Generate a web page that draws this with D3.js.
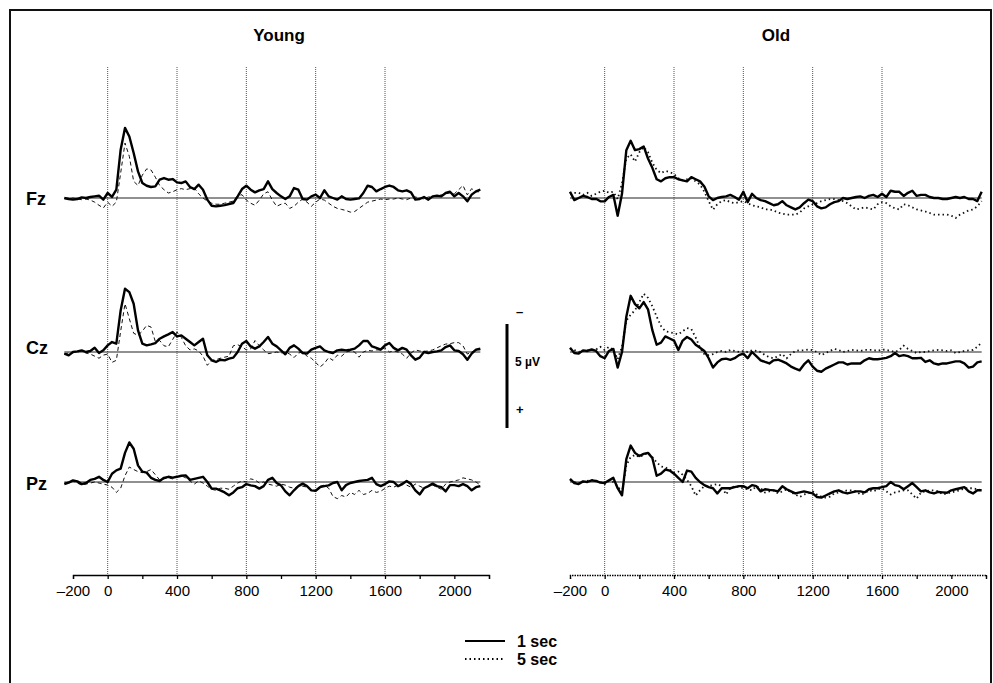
<!DOCTYPE html>
<html>
<head>
<meta charset="utf-8">
<script src="https://cdn.jsdelivr.net/npm/d3@7"></script>
<style>
  body { margin: 0; background: #fff; }
  svg text { font-family: Arial, "Liberation Sans", sans-serif; fill: #000; }
</style>
</head>
<body>
<div id="chart"></div>
<script>
// ERP waveforms, amplitude in microvolts (negative plotted up), sampled every 25 ms
const groups = ["Young", "Old"];
const channels = ["Fz", "Cz", "Pz"];
const conditions = ["1 sec", "5 sec"];
const tickValues = [-200, 0, 400, 800, 1200, 1600, 2000];
const gridValues = [0, 400, 800, 1200, 1600];
const step = 25;
const youngStart = -250;
const oldStart = -200;

// Young, 1 sec (solid)
const youngFz1 = [0, 0.05, 0.08, 0.05, -0.03, 0, -0.05, -0.08, -0.11, 0.08, -0.24, -0.05, -0.4, -2.32, -3.37, -2.96, -2.16, -1.28, -0.72, -0.59,
  -0.53, -0.56, -0.88, -0.96, -0.88, -0.91, -0.75, -0.72, -0.8, -0.53, -0.43, -0.64, -0.4, 0.08, 0.37, 0.4, 0.37, 0.34, 0.29, 0.24,
  -0.08, -0.43, -0.59, -0.4, -0.27, -0.37, -0.43, -0.8, -0.43, -0.24, -0.08, 0.05, -0.08, -0.48, -0.4, 0.05, 0.08, -0.08, -0.16, 0,
  -0.37, -0.08, 0, 0.08, -0.08, 0.05, 0.08, 0.05, 0.02, -0.24, -0.59, -0.53, -0.32, -0.43, -0.53, -0.6, -0.53, -0.37, -0.32, -0.37,
  -0.27, 0.08, 0.05, -0.05, 0.08, -0.08, -0.11, -0.08, -0.24, -0.3, -0.08, -0.24, -0.08, 0.16, -0.16, -0.32, -0.4];
const youngCz1 = [0.08, 0.16, 0, -0.03, -0.08, 0, -0.05, -0.2, 0.05, -0.08, -0.32, -0.48, -0.4, -2.0, -3.04, -2.88, -2.32, -1.04, -0.4, -0.32,
  -0.37, -0.43, -0.64, -0.75, -0.85, -0.96, -0.75, -0.8, -0.64, -0.48, -0.32, -0.48, -0.64, 0.16, 0.4, 0.48, 0.37, 0.4, 0.32, 0.27,
  0, -0.4, -0.53, -0.27, -0.16, -0.27, -0.48, -0.72, -0.4, -0.27, -0.08, 0.11, -0.2, -0.32, -0.16, 0.05, 0.08, -0.11, -0.2, -0.27,
  -0.08, 0, 0.05, -0.08, -0.11, -0.08, -0.11, -0.16, -0.32, -0.53, -0.53, -0.27, -0.2, -0.11, -0.32, -0.43, -0.2, -0.08, -0.2, -0.11,
  0.16, 0.37, 0.27, 0, 0.05, 0, -0.03, -0.08, -0.24, -0.32, -0.08, -0.05, 0.11, 0.37, 0.08, -0.11, -0.16];
const youngPz1 = [0.1, 0.03, -0.08, -0.03, 0.1, 0.05, -0.1, -0.15, -0.25, -0.1, 0, -0.4, -0.56, -0.64, -1.4, -1.9, -1.6, -0.8, -0.5, -0.45,
  -0.2, -0.1, -0.05, -0.2, -0.25, -0.21, -0.25, -0.3, -0.32, -0.1, -0.15, -0.2, -0.25, 0, 0.32, 0.32, 0.4, 0.5, 0.64, 0.5,
  0.3, 0.25, 0.1, 0.16, 0.2, 0.32, 0.2, -0.1, -0.2, 0.05, 0.16, 0.45, 0.64, 0.4, 0.2, 0.08, 0.2, 0.4, 0.42, 0.25,
  0.2, 0.16, 0.05, 0, 0.4, 0.15, 0.05, 0, -0.05, -0.08, -0.1, -0.2, 0.1, 0.2, 0.1, -0.03, 0, 0.2, 0.1, -0.05,
  0.1, 0.4, 0.6, 0.3, 0.2, 0.08, 0.2, 0.25, 0.45, 0.15, 0.15, 0.2, 0.1, 0.2, 0.4, 0.25, 0.2];

// Young, 5 sec (dashed)
const youngFz5 = [0.03, 0.05, 0, 0.05, 0.08, 0.05, 0.1, 0.2, 0.35, 0.48, 0.2, 0.4, 0.2, -1.2, -2.64, -2.0, -0.8, -0.6, -1.1, -1.4,
  -1.35, -1.0, -0.6, -0.4, -0.24, -0.3, -0.4, -0.45, -0.4, -0.45, -0.48, -0.2, 0, 0.15, 0.25, 0.3, 0.3, 0.25, 0.2, 0.15,
  -0.1, -0.16, 0.1, 0.25, 0.35, 0.1, -0.2, -0.3, 0.1, 0.4, 0.3, 0.25, 0.5, 0.4, 0.2, 0.05, 0.2, 0.4, 0.2, 0.05,
  0.1, 0.25, 0.4, 0.5, 0.55, 0.6, 0.68, 0.65, 0.5, 0.35, 0.2, 0.15, 0.1, 0.05, 0.08, 0.05, 0.05, 0, 0.05, 0.08,
  0, -0.05, 0, 0.05, -0.05, -0.05, -0.1, -0.15, -0.2, -0.25, -0.2, -0.4, -0.6, -0.15, -0.45, -0.3, -0.3];
const youngCz5 = [0.08, 0.05, 0.03, 0, -0.05, 0.05, 0.1, 0.2, 0.3, 0.15, 0.1, 0.5, 0.4, -1.0, -2.32, -1.6, -0.9, -0.8, -1.0, -1.28,
  -1.2, -0.5, -0.55, -0.3, -0.25, -0.6, -0.96, -0.7, -0.3, -0.1, -0.15, -0.05, 0.2, 0.64, 0.4, 0.37, 0.3, 0.25, 0.2, -0.3,
  -0.35, -0.25, -0.1, -0.15, -0.55, -0.3, -0.1, 0.08, 0.05, 0, 0.05, 0, 0.1, 0.27, 0.05, 0, 0.2, 0.3, 0.5, 0.72,
  0.55, 0.27, 0.4, 0.15, 0.2, 0, -0.05, 0, 0.25, 0, -0.08, -0.05, -0.1, -0.1, -0.2, 0, -0.05, 0, 0.1, 0.3,
  0.05, -0.1, -0.05, -0.03, -0.05, -0.1, -0.2, -0.3, -0.38, -0.4, -0.45, -0.45, -0.3, 0.1, 0, -0.1, -0.1];
const youngPz5 = [0.05, 0, -0.05, 0.05, 0.15, 0.1, 0.05, 0, 0.05, 0.1, 0.15, 0.25, 0.5, 0.3, -0.3, -0.72, -0.6, -0.5, -0.45, -0.5,
  -0.6, -0.35, -0.1, -0.15, -0.2, -0.15, -0.25, -0.3, -0.2, -0.05, 0.1, -0.05, 0.05, 0.2, 0.35, 0.4, 0.3, 0.3, 0.35, 0.2,
  0.05, -0.05, 0, -0.15, -0.1, 0.05, 0, 0.1, 0.15, 0.2, 0.1, 0.15, 0.25, 0.3, 0.2, 0.2, 0.25, 0.4, 0.4, 0.2,
  0.15, 0.3, 0.7, 0.8, 0.65, 0.72, 0.5, 0.6, 0.4, 0.6, 0.55, 0.4, 0.5, 0.45, 0.3, 0.2, 0.25, 0.15, 0.05, 0.15,
  0.25, 0.1, 0.2, 0.3, 0.2, 0.15, 0.25, 0.35, 0.1, 0, -0.05, -0.1, -0.2, -0.15, -0.1, 0, 0.15];

// Old, 1 sec (solid)
const oldFz1 = [-0.3, 0.1, 0, -0.1, -0.05, 0.05, 0.04, 0.16, 0.16, -0.05, -0.15, 0.85, -0.2, -2.3, -2.75, -2.3, -2.35, -2.48, -1.9, -1.45,
  -0.9, -0.8, -0.95, -1.0, -1.0, -0.9, -0.85, -0.8, -1.0, -0.9, -0.8, -0.55, -0.08, 0.1, 0, -0.05, -0.08, -0.15, -0.05, 0.08,
  -0.3, 0.2, -0.2, 0, 0.1, 0.15, 0.25, 0.35, 0.3, 0.15, 0.35, 0.45, 0.55, 0.45, 0.25, 0.08, 0.15, 0.4, 0.5, 0.45,
  0.3, 0.2, 0.15, 0, 0.05, 0, -0.05, -0.08, 0, -0.1, -0.15, -0.05, -0.2, -0.05, -0.35, -0.3, -0.3, -0.1, -0.25, -0.35,
  -0.1, -0.15, -0.15, -0.05, 0, 0, 0.05, 0.05, 0, -0.05, 0, -0.05, 0.05, 0.05, 0.15, -0.3];
const oldCz1 = [-0.2, 0.05, 0.08, -0.08, -0.05, -0.12, -0.05, 0.2, 0.3, -0.05, -0.15, 0.75, 0, -1.7, -2.7, -2.3, -2.1, -2.4, -2.05, -1.05,
  -0.35, -0.45, -0.75, -0.65, -0.55, -0.1, -0.55, -0.72, -0.6, -0.35, -0.2, -0.05, 0.3, 0.75, 0.5, 0.35, 0.32, 0.38, 0.3, 0.15,
  0.08, 0.3, 0, 0.2, 0.4, 0.48, 0.55, 0.4, 0.37, 0.45, 0.55, 0.7, 0.8, 0.88, 0.6, 0.4, 0.7, 0.9, 0.95, 0.8,
  0.7, 0.6, 0.5, 0.5, 0.6, 0.55, 0.55, 0.55, 0.4, 0.3, 0.35, 0.35, 0.32, 0.28, 0.2, 0.05, 0.2, 0.15, 0.2, 0.3,
  0.3, 0.28, 0.48, 0.4, 0.55, 0.6, 0.55, 0.55, 0.5, 0.45, 0.45, 0.55, 0.75, 0.7, 0.5, 0.45];
const oldPz1 = [-0.15, 0.05, 0.1, -0.03, 0, -0.08, -0.05, 0.03, 0.05, -0.08, -0.2, 0.3, 0.64, -1.1, -1.75, -1.4, -1.25, -1.35, -1.4, -1.15,
  -0.3, -0.4, -0.6, -0.55, -0.4, -0.2, 0, -0.55, -0.5, -0.2, 0, 0.15, 0.25, 0.3, 0.55, 0.3, 0.3, 0.3, 0.25, 0.2,
  0.2, 0.3, 0.15, 0.2, 0.45, 0.35, 0.38, 0.4, 0.45, 0.2, 0.35, 0.45, 0.55, 0.5, 0.45, 0.5, 0.55, 0.72, 0.75, 0.65,
  0.55, 0.45, 0.4, 0.5, 0.55, 0.5, 0.45, 0.45, 0.5, 0.35, 0.3, 0.3, 0.25, 0.2, 0, 0.15, 0.2, 0.35, 0.2, 0.05,
  0.25, 0.45, 0.4, 0.5, 0.55, 0.48, 0.5, 0.52, 0.4, 0.35, 0.3, 0.25, 0.45, 0.55, 0.4, 0.4];

// Old, 5 sec (dotted)
const oldFz5 = [-0.2, -0.25, -0.25, -0.15, -0.25, -0.1, -0.2, -0.3, -0.35, -0.25, -0.3, 0.05, -0.7, -1.9, -2.1, -1.75, -2.2, -2.45, -2.2, -1.7,
  -1.35, -1.2, -1.3, -1.25, -1.15, -0.95, -0.85, -0.9, -0.95, -0.8, -0.65, -0.3, 0.15, 0.56, 0.3, 0.15, 0.1, 0.2, 0.25, 0.2,
  0.15, 0.25, 0.35, 0.4, 0.45, 0.55, 0.55, 0.6, 0.7, 0.75, 0.8, 0.8, 0.8, 0.7, 0.5, 0.4, 0.3, 0.25, 0.15, 0.1,
  0.05, 0.05, 0.1, 0.15, 0.25, 0.4, 0.55, 0.5, 0.45, 0.5, 0.55, 0.3, 0.2, 0.25, 0.4, 0.5, 0.55, 0.3, 0.35, 0.45,
  0.55, 0.6, 0.65, 0.72, 0.8, 0.8, 0.8, 0.8, 0.85, 0.96, 0.8, 0.7, 0.6, 0.55, 0.4, 0.15];
const oldCz5 = [-0.15, -0.1, 0, -0.05, -0.08, -0.1, -0.12, -0.25, -0.1, -0.25, -0.1, 0.35, -0.25, -1.5, -1.8, -2.0, -2.4, -2.8, -2.6, -2.2,
  -1.7, -1.25, -1.0, -0.95, -0.9, -0.85, -1.0, -1.15, -1.1, -0.7, -0.2, 0.1, 0.15, 0.1, 0, -0.05, 0, -0.1, -0.05, 0,
  -0.05, 0, -0.08, -0.05, 0, 0.15, 0.25, 0.3, 0.2, 0.1, 0.3, 0.1, -0.05, -0.08, -0.08, -0.12, -0.08, 0, 0.15, 0.05,
  -0.05, -0.15, -0.1, 0, -0.05, -0.1, -0.08, -0.05, -0.1, -0.1, -0.1, -0.05, -0.12, -0.1, -0.05, 0, -0.1, -0.3, -0.15, -0.05,
  0.05, 0, 0, -0.05, -0.08, -0.1, -0.08, -0.05, -0.08, 0.05, 0, -0.05, -0.08, -0.1, -0.25, -0.45];
const oldPz5 = [-0.1, 0, 0.05, 0, -0.05, -0.1, -0.05, 0, 0.1, -0.05, 0, 0.2, 0.5, -0.8, -1.2, -1.3, -1.2, -1.3, -1.4, -1.2,
  -0.95, -0.75, -0.7, -0.6, -0.45, -0.5, -0.35, -0.1, 0.2, 0.65, 0.4, 0.2, 0.2, 0.15, 0.1, 0.2, 0.6, 0.3, 0.2, 0.25,
  0.3, 0.35, 0.4, 0.2, 0.3, 0.5, 0.45, 0.4, 0.55, 0.45, 0.35, 0.5, 0.6, 0.72, 0.6, 0.55, 0.45, 0.6, 0.7, 0.75,
  0.7, 0.55, 0.5, 0.45, 0.4, 0.4, 0.45, 0.6, 0.55, 0.4, 0.45, 0.35, 0.3, 0.45, 0.6, 0.5, 0.45, 0.4, 0.4, 0.6,
  0.8, 0.5, 0.45, 0.4, 0.4, 0.45, 0.6, 0.55, 0.5, 0.45, 0.4, 0.3, 0.3, 0.3, 0.35, 0.4];

const W = 993, H = 683;
const svg = d3.select("#chart").append("svg")
  .attr("width", W)
  .attr("height", H);

// frame
svg.append("rect")
  .attr("x", 10).attr("y", 10)
  .attr("width", 981).attr("height", 700)
  .attr("fill", "none")
  .attr("stroke", "#111")
  .attr("stroke-width", 2);

const panels = [
  { name: "Young", start: youngStart, x0: 73, x1: 489, dash: "4,3", dashWidth: 1,
    series: [[youngFz1, youngFz5], [youngCz1, youngCz5], [youngPz1, youngPz5]] },
  { name: "Old", start: oldStart, x0: 570, x1: 986, dash: "1.5,3", dashWidth: 1.8,
    series: [[oldFz1, oldFz5], [oldCz1, oldCz5], [oldPz1, oldPz5]] }
];

const baselines = [198, 352, 482];   // y of 0 µV for each channel
const labelDy = [7, 2, 8];
const pxPerUV = 20.8;
const gridTop = 67, axisY = 575;

panels.forEach((p, pi) => {
  const x = d3.scaleLinear().domain([-200, 2200]).range([p.x0, p.x1]);
  const g = svg.append("g");

  g.append("text")
    .attr("x", x(1000) - 2)
    .attr("y", 41)
    .attr("text-anchor", "middle")
    .style("font-size", "17px")
    .style("font-weight", "bold")
    .text(p.name);

  // dotted verticals
  g.selectAll(".grid")
    .data(gridValues)
    .enter().append("line")
    .attr("x1", d => x(d)).attr("x2", d => x(d))
    .attr("y1", gridTop).attr("y2", axisY)
    .attr("stroke", "#555")
    .attr("stroke-width", 1)
    .attr("stroke-dasharray", "1,1");

  // x axis
  const axis = d3.axisBottom(x)
    .tickValues(d3.range(-200, 2201, 200))
    .tickSize(4)
    .tickFormat(d => tickValues.includes(d) ? (d < 0 ? "\u2013" + Math.abs(d) : d) : "");
  const ax = g.append("g")
    .attr("transform", `translate(0,${axisY})`)
    .call(axis);
  ax.select(".domain").attr("stroke", "#000").attr("stroke-width", 1.3)
    .attr("stroke-dasharray", pi === 1 ? "1.5,1" : null);
  ax.selectAll(".tick line").attr("stroke", "#000").attr("stroke-width", 1.3);
  ax.selectAll(".tick text")
    .attr("dy", "0.95em")
    .style("font-size", "15px")
    .style("font-family", "Arial, 'Liberation Sans', sans-serif")
    .attr("fill", "#000");

  channels.forEach((ch, ci) => {
    const b = baselines[ci];
    const y = d3.scaleLinear().domain([-5, 5]).range([b - 5 * pxPerUV, b + 5 * pxPerUV]);
    const [s1, s5] = p.series[ci];
    const tEnd = p.start + (s1.length - 1) * step;

    if (pi === 0) {
      svg.append("text")
        .attr("x", 26)
        .attr("y", b + labelDy[ci])
        .style("font-size", "18px")
        .style("font-weight", "bold")
        .text(ch);
    }

    g.append("line")
      .attr("x1", x(p.start)).attr("x2", x(tEnd))
      .attr("y1", y(0)).attr("y2", y(0))
      .attr("stroke", "#222")
      .attr("stroke-width", 1.2);

    const line = d3.line()
      .x((d, i) => x(p.start + i * step))
      .y(d => y(d));

    g.append("path")
      .datum(s5)
      .attr("d", line)
      .attr("fill", "none")
      .attr("stroke", "#111")
      .attr("stroke-width", p.dashWidth)
      .attr("stroke-dasharray", p.dash);

    g.append("path")
      .datum(s1)
      .attr("d", line)
      .attr("fill", "none")
      .attr("stroke", "#000")
      .attr("stroke-width", 2.4)
      .attr("stroke-linejoin", "round");
  });
});

// 5 µV scale bar (negative up)
const barY = d3.scaleLinear().domain([-2.5, 2.5]).range([376 - 2.5 * pxPerUV, 376 + 2.5 * pxPerUV]);
svg.append("line")
  .attr("x1", 507).attr("x2", 507)
  .attr("y1", barY(-2.5)).attr("y2", barY(2.5))
  .attr("stroke", "#000").attr("stroke-width", 3);
svg.append("text").attr("x", 516).attr("y", 316).style("font-size", "13px").style("font-weight", "bold").text("\u2013");
svg.append("text").attr("x", 515).attr("y", 366).style("font-size", "12px").style("font-weight", "bold").text("5 \u00b5V");
svg.append("text").attr("x", 516).attr("y", 414).style("font-size", "13px").style("font-weight", "bold").text("+");

// legend
const legend = svg.append("g").attr("transform", "translate(465,641)");
conditions.forEach((c, i) => {
  legend.append("line")
    .attr("x1", 0).attr("x2", 40)
    .attr("y1", i * 18).attr("y2", i * 18)
    .attr("stroke", "#000")
    .attr("stroke-width", i === 0 ? 2 : 1.8)
    .attr("stroke-dasharray", i === 0 ? null : "1.5,3");
  legend.append("text")
    .attr("x", 52).attr("y", i * 18 + 6)
    .style("font-size", "16px")
    .style("font-weight", "bold")
    .text(c);
});
</script>
</body>
</html>
